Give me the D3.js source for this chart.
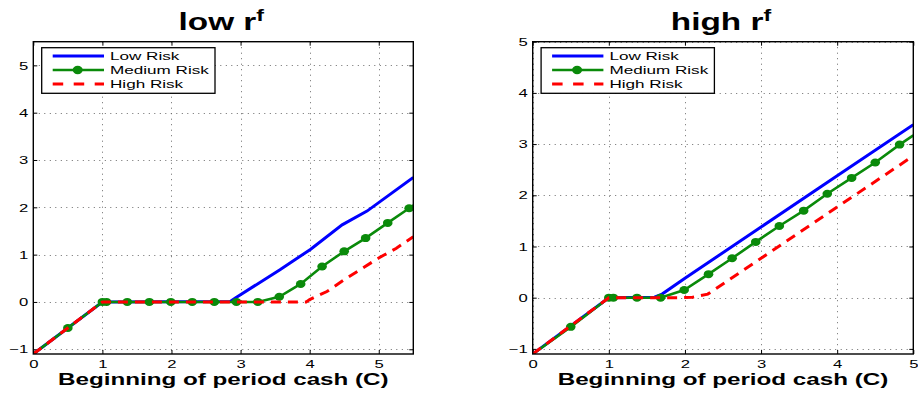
<!DOCTYPE html>
<html>
<head>
<meta charset="utf-8">
<script src="https://cdn.jsdelivr.net/npm/d3@7"></script>
<style>
  html, body { margin: 0; padding: 0; background: #fff; }
  svg { display: block; }
  text { font-family: "Liberation Sans", Arial, Helvetica, sans-serif; fill: #000; }
</style>
</head>
<body>
<svg id="chart" width="918" height="394"></svg>
<script>
// ---- data ----
const seriesNames = ["Low Risk", "Medium Risk", "High Risk"];
const xLabel = "Beginning of period cash (C)";

// panel 1: low risk-free rate
const lowRfTicksX = [0, 1, 2, 3, 4, 5];
const lowRfTicksY = [-1, 0, 1, 2, 3, 4, 5];
const lowRfLowX  = [0, 1, 2.85, 2.93, 3.57, 4.01, 4.47, 4.83, 5.5];
const lowRfLowY  = [-1.1, 0, 0.01, 0.09, 0.68, 1.11, 1.63, 1.92, 2.63];
const lowRfMedX  = [0, 0.5, 1, 1.06, 1.36, 1.68, 1.99, 2.30, 2.62, 2.94, 3.25, 3.56, 3.87, 4.18, 4.50, 4.81, 5.13, 5.44, 5.5];
const lowRfMedY  = [-1.1, -0.55, 0, 0, 0, 0, 0, 0, 0, 0, 0, 0.11, 0.38, 0.75, 1.07, 1.35, 1.67, 1.98, 2.04];
const lowRfHighX = [0, 1, 3.95, 4.0, 4.25, 4.5, 4.75, 5.0, 5.25, 5.5];
const lowRfHighY = [-1.1, 0, 0, 0.05, 0.22, 0.47, 0.70, 0.93, 1.13, 1.38];

// panel 2: high risk-free rate
const highRfTicksX = [0, 1, 2, 3, 4, 5];
const highRfTicksY = [-1, 0, 1, 2, 3, 4, 5];
const highRfLowX  = [0, 1, 1.6, 1.7, 2, 3, 4, 5];
const highRfLowY  = [-1.1, 0, 0.01, 0.07, 0.38, 1.38, 2.38, 3.38];
const highRfMedX  = [0, 0.5, 1, 1.06, 1.37, 1.68, 1.99, 2.31, 2.62, 2.93, 3.24, 3.56, 3.87, 4.19, 4.50, 4.82, 5];
const highRfMedY  = [-1.1, -0.57, 0, 0, 0, 0, 0.15, 0.46, 0.77, 1.09, 1.40, 1.70, 2.03, 2.34, 2.64, 2.99, 3.17];
const highRfHighX = [0, 1, 1.95, 2.1, 2.3, 3, 4, 5];
const highRfHighY = [-1.1, 0, 0, 0.01, 0.07, 0.77, 1.77, 2.77];

// ---- drawing ----
const SX = 1.45; // horizontal text stretch
const colors = { low: "#0000ff", med: "#0a8a0a", high: "#ff0000" };
const svg = d3.select("#chart");

const zip = (xs, ys) => xs.map((x, i) => [x, ys[i]]);

function panel(cfg) {
  const { left, right, top, bottom, xDomain, yDomain, xTicks, yTicks, title, series, id } = cfg;
  const x = d3.scaleLinear().domain(xDomain).range([left, right]);
  const y = d3.scaleLinear().domain(yDomain).range([bottom, top]);
  const g = svg.append("g");

  g.append("clipPath").attr("id", id).append("rect")
    .attr("x", left).attr("y", top).attr("width", right - left).attr("height", bottom - top);

  // dotted grid
  const grid = g.append("g").attr("stroke", "#6a6a6a").attr("stroke-width", 1)
    .attr("stroke-dasharray", "1,4.5");
  grid.selectAll(".gx").data(xTicks).join("line")
    .attr("x1", d => Math.round(x(d)) + 0.5).attr("x2", d => Math.round(x(d)) + 0.5)
    .attr("y1", top).attr("y2", bottom);
  grid.selectAll(".gy").data(yTicks).join("line")
    .attr("y1", d => Math.round(y(d)) + 0.5).attr("y2", d => Math.round(y(d)) + 0.5)
    .attr("x1", left).attr("x2", right);

  // axes with inward ticks on all four sides
  const stretch = sel => {
    sel.selectAll("text").each(function () {
      const t = d3.select(this);
      const xx = +t.attr("x") || 0;
      t.attr("x", xx / SX).attr("transform", `scale(${SX},1)`);
    });
  };
  const axB = g.append("g").attr("transform", `translate(0,${bottom})`)
    .call(d3.axisBottom(x).tickValues(xTicks).tickSizeInner(-4).tickSizeOuter(0).tickPadding(5.5).tickFormat(d3.format("d")));
  const axL = g.append("g").attr("transform", `translate(${left},0)`)
    .call(d3.axisLeft(y).tickValues(yTicks).tickSizeInner(-4).tickSizeOuter(0).tickPadding(5).tickFormat(d3.format("d")));
  g.append("g").attr("transform", `translate(0,${top})`)
    .call(d3.axisTop(x).tickValues(xTicks).tickSizeInner(-4).tickSizeOuter(0).tickFormat(""));
  g.append("g").attr("transform", `translate(${right},0)`)
    .call(d3.axisRight(y).tickValues(yTicks).tickSizeInner(-4).tickSizeOuter(0).tickFormat(""));
  g.selectAll(".domain").remove();
  g.selectAll(".tick line").attr("stroke", "#000");
  [axB, axL].forEach(a => a.selectAll("text")
    .attr("font-size", 11.5).attr("font-family", "Liberation Sans, Arial, sans-serif").attr("fill", "#000"));
  stretch(axB); stretch(axL);

  // series lines
  const line = d3.line().x(d => x(d[0])).y(d => y(d[1]));
  const plot = g.append("g").attr("clip-path", `url(#${id})`);
  plot.append("path").datum(zip(series.lowX, series.lowY))
    .attr("d", line).attr("fill", "none").attr("stroke", colors.low).attr("stroke-width", 3);
  const medData = zip(series.medX, series.medY);
  plot.append("path").datum(medData)
    .attr("d", line).attr("fill", "none").attr("stroke", colors.med).attr("stroke-width", 2.6);
  plot.selectAll(".m").data(medData.slice(1, -1)).join("ellipse")
    .attr("cx", d => x(d[0])).attr("cy", d => y(d[1]))
    .attr("rx", 4.8).attr("ry", 4).attr("fill", colors.med);
  plot.append("path").datum(zip(series.highX, series.highY))
    .attr("d", line).attr("fill", "none").attr("stroke", colors.high).attr("stroke-width", 3)
    .attr("stroke-dasharray", "10,7");

  // frame
  g.append("rect").attr("x", left).attr("y", top).attr("width", right - left).attr("height", bottom - top)
    .attr("fill", "none").attr("stroke", "#000").attr("stroke-width", 1.4);

  // legend
  const lx = left + 8.4, ly = top + 6;
  const lg = g.append("g");
  lg.append("rect").attr("x", lx).attr("y", ly).attr("width", 173.3).attr("height", 45.6)
    .attr("fill", "#fff").attr("stroke", "#000").attr("stroke-width", 1.3);
  const rows = [
    { name: seriesNames[0], color: colors.low, w: 3, dash: null, marker: false },
    { name: seriesNames[1], color: colors.med, w: 2.6, dash: null, marker: true },
    { name: seriesNames[2], color: colors.high, w: 3, dash: "10.5,10.5", marker: false }
  ];
  rows.forEach((r, i) => {
    const yy = ly + 8.3 + i * 14;
    lg.append("line").attr("x1", lx + 11).attr("x2", lx + 62.3).attr("y1", yy).attr("y2", yy)
      .attr("stroke", r.color).attr("stroke-width", r.w).attr("stroke-dasharray", r.dash);
    if (r.marker) lg.append("ellipse").attr("cx", lx + 36).attr("cy", yy).attr("rx", 5).attr("ry", 4.2).attr("fill", r.color);
    lg.append("text").attr("transform", `translate(${lx + 68.3},${ly + 12.3 + i * 14}) scale(${SX},1)`)
      .attr("font-size", 11.8).text(r.name);
  });

  // title with superscript
  const t = g.append("text").attr("transform", `translate(${(left + right) / 2 - 2},30) scale(${SX},1)`)
    .attr("text-anchor", "middle").attr("font-size", 23).attr("font-weight", "bold");
  t.append("tspan").text(title + " r");
  t.append("tspan").attr("font-size", 16).attr("dy", -9).text("f");

  // x label
  g.append("text").attr("transform", `translate(${(left + right) / 2},385) scale(${SX},1)`)
    .attr("text-anchor", "middle").attr("font-size", 16.7).attr("font-weight", "bold").text(xLabel);
}

panel({
  id: "clipLow", left: 33.3, right: 413.3, top: 41.7, bottom: 354,
  xDomain: [0, 5.5], yDomain: [-1.1, 5.5], xTicks: lowRfTicksX, yTicks: lowRfTicksY, title: "low",
  series: { lowX: lowRfLowX, lowY: lowRfLowY, medX: lowRfMedX, medY: lowRfMedY, highX: lowRfHighX, highY: lowRfHighY }
});
panel({
  id: "clipHigh", left: 532.7, right: 913.3, top: 41.7, bottom: 354,
  xDomain: [0, 5], yDomain: [-1.1, 5], xTicks: highRfTicksX, yTicks: highRfTicksY, title: "high",
  series: { lowX: highRfLowX, lowY: highRfLowY, medX: highRfMedX, medY: highRfMedY, highX: highRfHighX, highY: highRfHighY }
});
</script>
</body>
</html>
